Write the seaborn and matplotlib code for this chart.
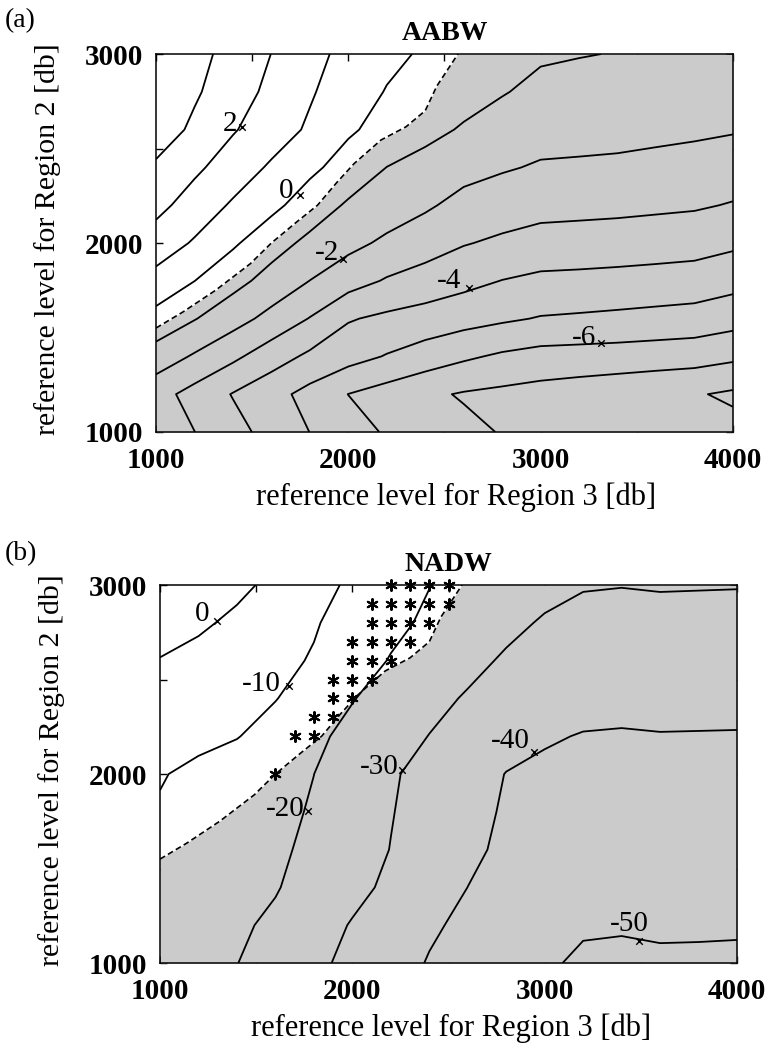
import matplotlib
matplotlib.use("Agg")
import matplotlib.pyplot as plt
import numpy as np
import seaborn as sns

# ---------------- data ----------------
region3_ref = [1000, 1200, 1400, 1600, 1800, 2000, 2200, 2400, 2600, 2800,
               3000, 3200, 3400, 3600, 3800, 4000]
region2_ref = [1000, 1200, 1400, 1600, 1800, 2000, 2200, 2400, 2600, 2800, 3000]

# AABW transport, rows = region2_ref (bottom -> top), cols = region3_ref
aabw_transport = [
    [-2.31, -2.99, -3.67, -4.34, -5.01, -5.59, -6.10, -6.44, -6.77, -7.05, -7.18, -7.30, -7.40, -7.50, -7.60, -7.70],
    [-2.63, -3.34, -4.05, -4.66, -5.31, -6.01, -6.41, -6.82, -7.08, -7.22, -7.36, -7.50, -7.64, -7.78, -7.92, -8.15],
    [-1.43, -2.11, -2.79, -3.54, -4.19, -4.63, -5.06, -5.45, -5.84, -6.15, -6.35, -6.40, -6.45, -6.52, -6.59, -6.80],
    [-0.33, -0.95, -1.61, -2.30, -3.04, -3.92, -4.20, -4.41, -4.63, -4.85, -5.06, -5.13, -5.21, -5.30, -5.39, -5.62],
    [0.67, 0.01, -0.68, -1.35, -2.01, -2.59, -3.09, -3.40, -3.72, -4.02, -4.21, -4.25, -4.30, -4.36, -4.43, -4.66],
    [1.54, 0.90, 0.14, -0.61, -1.23, -1.73, -2.18, -2.56, -2.94, -3.17, -3.37, -3.42, -3.48, -3.55, -3.62, -3.82],
    [2.29, 1.57, 0.88, 0.25, -0.47, -1.12, -1.49, -1.86, -2.30, -2.50, -2.67, -2.71, -2.75, -2.82, -2.89, -3.06],
    [2.85, 2.19, 1.53, 0.87, 0.21, -0.40, -1.01, -1.32, -1.68, -1.91, -2.09, -2.12, -2.15, -2.23, -2.31, -2.48],
    [3.54, 2.81, 2.08, 1.48, 0.86, 0.13, -0.33, -0.73, -1.09, -1.42, -1.65, -1.70, -1.75, -1.80, -1.86, -1.93],
    [3.81, 3.13, 2.45, 1.77, 1.10, 0.49, -0.05, -0.35, -0.65, -0.94, -1.24, -1.33, -1.40, -1.48, -1.57, -1.68],
    [3.95, 3.32, 2.66, 1.99, 1.30, 0.72, 0.23, -0.12, -0.35, -0.60, -0.88, -0.96, -1.03, -1.15, -1.28, -1.40],
]

# NADW transport, rows = region2_ref (bottom -> top), cols = region3_ref
nadw_transport = [
    [-16.5, -18.18, -19.86, -23.84, -28.05, -32.28, -36.53, -40.53, -43.40, -46.26, -49.13, -51.0, -51.25, -51.0, -51.0, -51.1],
    [-15.5, -17.17, -18.83, -21.4, -26.05, -30.61, -34.71, -38.81, -41.8, -44.6, -47.4, -49.3, -49.5, -49.1, -49.2, -49.3],
    [-14.0, -15.83, -17.66, -19.5, -23.16, -27.52, -31.78, -35.91, -40.04, -43.1, -46.2, -47.52, -47.68, -47.35, -47.45, -47.5],
    [-12.5, -14.6, -16.6, -18.7, -21.63, -25.92, -30.2, -34.23, -38.27, -41.65, -44.56, -45.72, -45.89, -45.59, -45.67, -45.74],
    [-10.8, -13.2, -15.6, -17.99, -20.71, -25.16, -29.6, -33.51, -37.36, -40.9, -42.91, -43.92, -44.11, -43.82, -43.9, -43.97],
    [-9.41, -12.05, -14.69, -17.33, -19.97, -24.47, -29.03, -32.84, -36.51, -40.2, -41.26, -42.12, -42.32, -42.06, -42.12, -42.19],
    [-5.96, -7.79, -9.62, -13.65, -18.23, -22.41, -26.33, -30.18, -32.95, -37.08, -39.34, -40.32, -40.53, -40.3, -40.36, -40.42],
    [-3.2, -5.36, -7.52, -9.68, -14.42, -19.61, -23.6, -27.49, -30.83, -34.08, -36.51, -37.75, -38.08, -37.7, -37.8, -37.9],
    [-0.5, -2.96, -5.42, -7.88, -10.68, -15.72, -20.53, -24.08, -27.62, -31.08, -33.69, -35.01, -35.33, -34.97, -35.07, -35.16],
    [5.2, 1.6, -2.03, -5.65, -9.28, -13.47, -17.81, -21.57, -24.7, -27.9, -30.86, -32.27, -32.58, -32.23, -32.33, -32.41],
    [11.5, 6.86, 2.24, -2.38, -7.0, -11.46, -15.64, -19.81, -22.0, -24.5, -27.5, -29.5, -29.8, -29.5, -29.6, -29.7],
]

aabw_levels = [-8, -7, -6, -5, -4, -3, -2, -1, 0, 1, 2, 3]
nadw_levels = [-50, -40, -30, -20, -10, 0]

# contour labels (value, position on the line)
aabw_label_text = ["2", "0", "-2", "-4", "-6"]
aabw_label_r3 = [1446, 1749, 1972, 2629, 3316]
aabw_label_r2 = [2612, 2254, 1918, 1760, 1470]

nadw_label_text = ["0", "-10", "-20", "-30", "-40", "-50"]
nadw_label_r3 = [1298, 1671, 1769, 2260, 2944, 3490]
nadw_label_r2 = [2808, 2464, 1802, 2023, 2116, 1118]

# boundary of the shaded (dashed) region, same in both panels
boundary_r3 = [1000, 1140, 1310, 1490, 1600, 1730, 1840, 1940, 2030, 2170, 2300, 2400, 2460, 2570]
boundary_r2 = [1550, 1635, 1750, 1890, 2000, 2110, 2200, 2320, 2420, 2545, 2615, 2700, 2830, 3000]

# asterisks in panel (b)
star_r3 = [2200, 2300, 2400, 2500,
           2100, 2200, 2300, 2400, 2500,
           2100, 2200, 2300, 2400,
           2000, 2100, 2200, 2300,
           2000, 2100, 2200,
           1900, 2000, 2100,
           1900, 2000,
           1800, 1900,
           1700, 1800,
           1600]
star_r2 = [3000, 3000, 3000, 3000,
           2900, 2900, 2900, 2900, 2900,
           2800, 2800, 2800, 2800,
           2700, 2700, 2700, 2700,
           2600, 2600, 2600,
           2500, 2500, 2500,
           2400, 2400,
           2300, 2300,
           2200, 2200,
           2000]

tick_values = [1000, 1500, 2000, 2500, 3000, 3500, 4000]
tick_labels_x = ["1000", "", "2000", "", "3000", "", "4000"]
ytick_values = [1000, 1500, 2000, 2500, 3000]
tick_labels_y = ["1000", "", "2000", "", "3000"]

# ---------------- style ----------------
sns.set_theme(style="ticks")
plt.rcParams["font.family"] = ["Liberation Serif", "DejaVu Serif"]
for key in ["text.color", "axes.labelcolor", "xtick.color", "ytick.color",
            "axes.edgecolor"]:
    plt.rcParams[key] = "black"

SHADE = "#cbcbcb"
LABEL_FS = 21
TICK_FS = 21

# label text offsets (points) relative to the marked point on each line
aabw_off = [(-3.5, -2.5), (-4.5, -2), (-3, -1), (-6, 0), (-4, -1)]
nadw_off = [(-6, 0), (-6, -3), (-2.5, -3), (-2.5, -3), (-3, 3), (7, 7)]

fig = plt.figure(figsize=(7.65, 10.47), dpi=100)
ax_a = fig.add_axes([0.2039, 0.5874, 0.7542, 0.3610])
ax_b = fig.add_axes([0.2092, 0.0802, 0.7542, 0.3610])


def draw_panel(ax, z, levels, ltext, lr3, lr2, offs, title, stars, xlab_x):
    ax.set_facecolor("white")
    # shaded region right of / below the dashed boundary
    ax.fill_betweenx([region2_ref[0]] + boundary_r2,
                     [region3_ref[0]] + boundary_r3,
                     region3_ref[-1], color=SHADE, lw=0, zorder=1)
    ax.contour(region3_ref, region2_ref, np.array(z), levels=levels,
               colors="black", linewidths=1.3, linestyles="solid", zorder=2)
    sns.lineplot(x=boundary_r3, y=boundary_r2, sort=False, estimator=None,
                 ax=ax, color="black", lw=1.2, linestyle=(0, (3.5, 2)), zorder=3)
    if stars:
        sns.scatterplot(x=star_r3, y=star_r2, ax=ax, marker=(6, 2, 0), s=60,
                        color="black", linewidth=1.5, zorder=5, clip_on=False)
    sns.scatterplot(x=lr3, y=lr2, ax=ax, marker="x", s=22, color="black",
                    linewidth=1.0, zorder=4)
    for t, x, y, (dx, dy) in zip(ltext, lr3, lr2, offs):
        ax.annotate(t, xy=(x, y), xytext=(dx, dy), textcoords="offset points",
                    ha="right", va="baseline", fontsize=LABEL_FS, zorder=6)

    ax.set_xlim(region3_ref[0], region3_ref[-1])
    ax.set_ylim(region2_ref[0], region2_ref[-1])
    ax.set_xticks(tick_values)
    ax.set_xticklabels(tick_labels_x)
    ax.set_yticks(ytick_values)
    ax.set_yticklabels(tick_labels_y)
    ax.tick_params(direction="in", top=True, right=True, length=5, width=1,
                   colors="black", labelsize=TICK_FS)
    ax.tick_params(axis="x", pad=11)
    ax.tick_params(axis="y", pad=9)
    for lab in ax.get_xticklabels() + ax.get_yticklabels():
        lab.set_fontweight("bold")
    for sp in ax.spines.values():
        sp.set_visible(True)
        sp.set_color("black")
        sp.set_linewidth(1.1)
    ax.set_xlabel("reference level for Region 3 [db]", fontsize=22)
    ax.set_ylabel("reference level for Region 2 [db]", fontsize=21.5)
    ax.xaxis.set_label_coords(xlab_x, -0.133)
    ax.yaxis.set_label_coords(-0.165, 0.51)
    ax.set_title(title, fontsize=20, fontweight="bold", pad=10)


draw_panel(ax_a, aabw_transport, aabw_levels, aabw_label_text,
           aabw_label_r3, aabw_label_r2, aabw_off, "AABW", False, 0.52)
draw_panel(ax_b, nadw_transport, nadw_levels, nadw_label_text,
           nadw_label_r3, nadw_label_r2, nadw_off, "NADW", True, 0.505)

fig.text(0.006, 0.980, "(a)", fontsize=20, va="center", ha="left")
fig.text(0.006, 0.471, "(b)", fontsize=20, va="center", ha="left")

fig.savefig("out.png", dpi=100, facecolor="white")
